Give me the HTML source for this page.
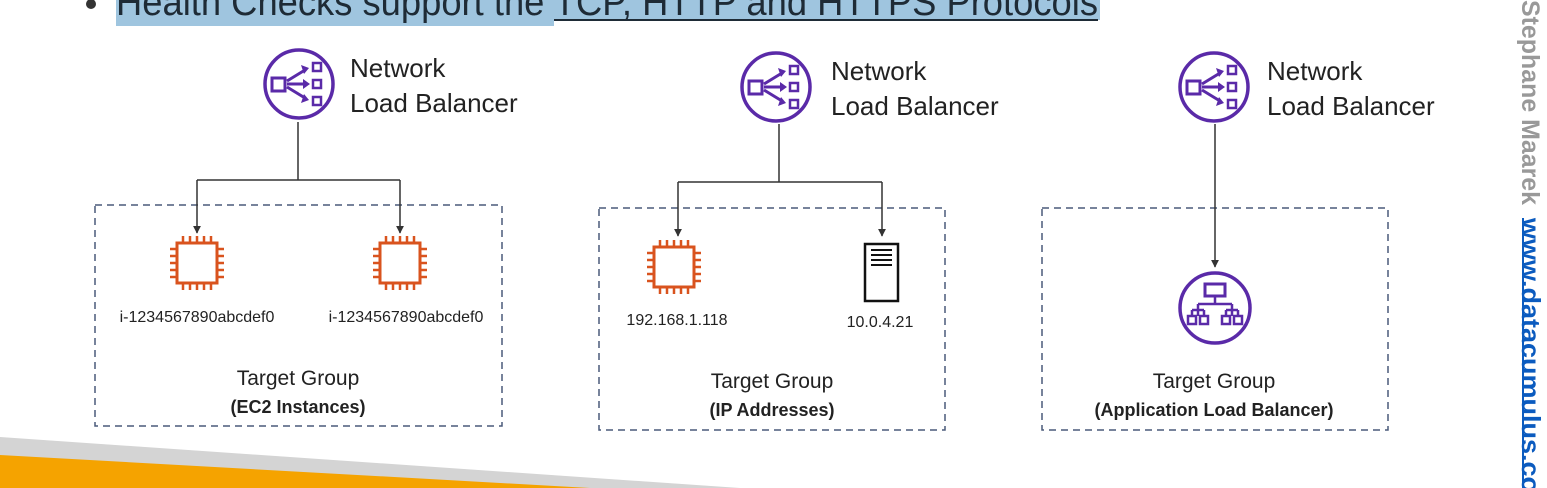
<!DOCTYPE html>
<html><head><meta charset="utf-8"><style>
html,body{margin:0;padding:0;background:#fff;}
svg{display:block;}
text{font-family:"Liberation Sans","DejaVu Sans",sans-serif;}
</style></head><body>
<svg width="1547" height="488" viewBox="0 0 1547 488" xmlns="http://www.w3.org/2000/svg">
<defs>
<g id="nlb">
<circle cx="0" cy="0" r="34" fill="none" stroke="#5a2aa8" stroke-width="3.5"/>
<rect x="-27" y="-6" width="13" height="13" fill="none" stroke="#5a2aa8" stroke-width="3"/>
<rect x="14" y="-21" width="8" height="8" fill="none" stroke="#5a2aa8" stroke-width="2.5"/>
<rect x="14" y="-4" width="8" height="8" fill="none" stroke="#5a2aa8" stroke-width="2.5"/>
<rect x="14" y="13" width="8" height="8" fill="none" stroke="#5a2aa8" stroke-width="2.5"/>
<path d="M-12 -3 L6 -14 M-12 0 L8 0 M-12 3 L6 14" stroke="#5a2aa8" stroke-width="3" fill="none"/>
<path d="M2 -19 L10 -16 L5 -10 Z M4 -5 L11 0 L4 5 Z M2 19 L10 16 L5 10 Z" fill="#5a2aa8"/>
</g>
<g id="ec2">
<rect x="-20" y="-20" width="40" height="40" fill="#fff" stroke="#d9531e" stroke-width="3"/>
<path d="M-14 -21v-6M-7 -21v-6M0 -21v-6M7 -21v-6M14 -21v-6 M-14 21v6M-7 21v6M0 21v6M7 21v6M14 21v6 M-21 -14h-6M-21 -7h-6M-21 0h-6M-21 7h-6M-21 14h-6 M21 -14h6M21 -7h6M21 0h6M21 7h6M21 14h6" stroke="#d9531e" stroke-width="2.5"/>
</g>
<marker id="ar" viewBox="0 0 10 10" refX="9" refY="5" markerWidth="8" markerHeight="8" orient="auto" markerUnits="userSpaceOnUse"><path d="M0 0L10 5L0 10Z" fill="#333"/></marker>
</defs>

<rect x="116" y="0" width="438" height="26" fill="#9fc5df"/>
<rect x="554" y="0" width="546" height="20" fill="#9fc5df"/>
<circle cx="91" cy="4" r="5" fill="#333"/>
<text x="116" y="15" font-size="38" fill="#1e2b36" textLength="982" lengthAdjust="spacingAndGlyphs">Health Checks support the TCP, HTTP and HTTPS Protocols</text>
<line x1="554" y1="20" x2="1098" y2="20" stroke="#1e2b36" stroke-width="2"/>

<polygon points="0,437 0,488 740,488" fill="#d4d4d4"/>
<polygon points="0,455 0,488 590,488" fill="#f5a300"/>

<text transform="translate(1522,0) rotate(90)" font-size="25" fill="#999" font-weight="bold" x="0" y="0" textLength="205" lengthAdjust="spacingAndGlyphs">Stephane Maarek</text>
<text transform="translate(1522,218) rotate(90)" font-size="26" fill="#0b5bbf" font-weight="bold" x="0" y="0" textLength="275" lengthAdjust="spacingAndGlyphs">www.datacumulus.co</text>
<line x1="1523" y1="218" x2="1523" y2="488" stroke="#0b5bbf" stroke-width="2"/>

<g fill="none" stroke="#4a5a7a" stroke-width="1.5" stroke-dasharray="7,5">
<rect x="95" y="205" width="407" height="221"/>
<rect x="599" y="208" width="346" height="222"/>
<rect x="1042" y="208" width="346" height="222"/>
</g>

<use href="#nlb" x="299" y="84"/>
<text x="350" y="77" font-size="26" fill="#222">Network</text>
<text x="350" y="112" font-size="26" fill="#222">Load Balancer</text>
<path d="M298 122V180M197 180H400" stroke="#333" stroke-width="1.5" fill="none"/>
<line x1="197" y1="180" x2="197" y2="233" stroke="#333" stroke-width="1.5" marker-end="url(#ar)"/>
<line x1="400" y1="180" x2="400" y2="233" stroke="#333" stroke-width="1.5" marker-end="url(#ar)"/>
<use href="#ec2" x="197" y="263"/>
<use href="#ec2" x="400" y="263"/>
<text x="197" y="322" font-size="16" fill="#222" text-anchor="middle">i-1234567890abcdef0</text>
<text x="406" y="322" font-size="16" fill="#222" text-anchor="middle">i-1234567890abcdef0</text>
<text x="298" y="385" font-size="21" fill="#222" text-anchor="middle">Target Group</text>
<text x="298" y="413" font-size="18" fill="#222" text-anchor="middle" font-weight="bold">(EC2 Instances)</text>

<use href="#nlb" x="776" y="87"/>
<text x="831" y="80" font-size="26" fill="#222">Network</text>
<text x="831" y="115" font-size="26" fill="#222">Load Balancer</text>
<path d="M779 124V182M678 182H882" stroke="#333" stroke-width="1.5" fill="none"/>
<line x1="678" y1="182" x2="678" y2="236" stroke="#333" stroke-width="1.5" marker-end="url(#ar)"/>
<line x1="882" y1="182" x2="882" y2="236" stroke="#333" stroke-width="1.5" marker-end="url(#ar)"/>
<use href="#ec2" x="674" y="267"/>
<rect x="865" y="244" width="33" height="57" fill="#fff" stroke="#111" stroke-width="2.5"/>
<path d="M871 250h21M871 255h21M871 260h21M871 265h21" stroke="#111" stroke-width="2"/>
<text x="677" y="325" font-size="16" fill="#222" text-anchor="middle">192.168.1.118</text>
<text x="880" y="327" font-size="16" fill="#222" text-anchor="middle">10.0.4.21</text>
<text x="772" y="388" font-size="21" fill="#222" text-anchor="middle">Target Group</text>
<text x="772" y="416" font-size="18" fill="#222" text-anchor="middle" font-weight="bold">(IP Addresses)</text>

<use href="#nlb" x="1214" y="87"/>
<text x="1267" y="80" font-size="26" fill="#222">Network</text>
<text x="1267" y="115" font-size="26" fill="#222">Load Balancer</text>
<line x1="1215" y1="124" x2="1215" y2="267" stroke="#333" stroke-width="1.5" marker-end="url(#ar)"/>
<g transform="translate(1215,308)" fill="none" stroke="#5a2aa8" stroke-width="2.5">
<circle r="35" stroke-width="3.5"/>
<rect x="-10" y="-24" width="20" height="12" stroke-width="3"/>
<path d="M0 -12V-4M-17 -4H17M-17 -4V2M17 -4V2M-23 2H-11M-17 2V8M11 2H23M17 2V8M-23 2V8M-11 2V8M11 2V8M23 2V8"/>
<rect x="-27" y="8" width="8" height="8"/><rect x="-15" y="8" width="8" height="8"/>
<rect x="7" y="8" width="8" height="8"/><rect x="19" y="8" width="8" height="8"/>
</g>
<text x="1214" y="388" font-size="21" fill="#222" text-anchor="middle">Target Group</text>
<text x="1214" y="416" font-size="18" fill="#222" text-anchor="middle" font-weight="bold">(Application Load Balancer)</text>
</svg>
</body></html>
